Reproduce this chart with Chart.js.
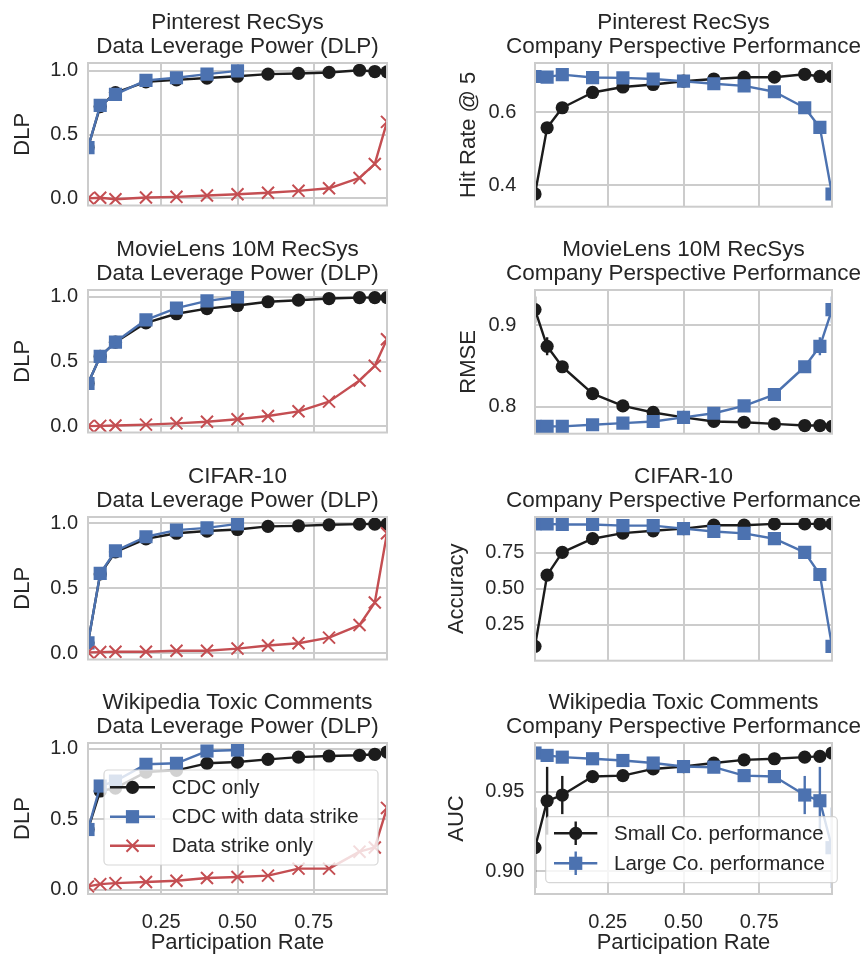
<!DOCTYPE html>
<html>
<head>
<meta charset="utf-8">
<script src="https://cdn.jsdelivr.net/npm/chart.js@4.4.1/dist/chart.umd.min.js"></script>
<style>
  html, body { margin: 0; padding: 0; background: #fff; overflow: hidden; }
  #fig { position: relative; width: 868px; height: 959px; overflow: hidden; background: #fff; }
  #fig canvas { position: absolute; }
</style>
</head>
<body>
<div id="fig"></div>
<script>
// participation rates (x) - data strike runs only go to 0.5
const participation = [0.01, 0.05, 0.1, 0.2, 0.3, 0.4, 0.5, 0.6, 0.7, 0.8, 0.9, 0.95, 0.99];
const strikeParticipation = [0.01, 0.05, 0.1, 0.2, 0.3, 0.4, 0.5];
const xTicks = [0.25, 0.5, 0.75];

// Pinterest
const pinCdc = [0.40, 0.72, 0.83, 0.914, 0.93, 0.944, 0.958, 0.975, 0.98, 0.988, 1.005, 0.995, 0.993];
const pinCdcStrike = [0.398, 0.73, 0.816, 0.926, 0.946, 0.975, 1.0];
const pinStrike = [0.0, 0.005, -0.007, 0.007, 0.012, 0.022, 0.032, 0.044, 0.059, 0.079, 0.16, 0.27, 0.60];
const pinSmall = [0.376, 0.558, 0.613, 0.655, 0.670, 0.677, 0.686, 0.692, 0.697, 0.697, 0.705, 0.699, 0.699];
const pinLarge = [0.699, 0.697, 0.704, 0.696, 0.695, 0.692, 0.686, 0.679, 0.673, 0.657, 0.613, 0.559, 0.376];

// MovieLens 10M
const mlCdc = [0.33, 0.54, 0.65, 0.80, 0.87, 0.91, 0.934, 0.963, 0.975, 0.988, 0.995, 0.995, 0.995];
const mlCdcStrike = [0.33, 0.54, 0.651, 0.823, 0.914, 0.97, 1.0];
const mlStrike = [0.0, 0.002, 0.005, 0.012, 0.022, 0.034, 0.054, 0.079, 0.115, 0.19, 0.354, 0.467, 0.673];
const mlSmall = [0.919, 0.874, 0.849, 0.816, 0.801, 0.793, 0.787, 0.782, 0.781, 0.779, 0.777, 0.777, 0.776];
const mlLarge = [0.776, 0.776, 0.776, 0.778, 0.780, 0.782, 0.787, 0.792, 0.801, 0.815, 0.849, 0.874, 0.919];
const mlSmallErr = [0.016, 0.011, 0.003, 0.002, 0.001, 0.001, 0.001, 0.001, 0.001, 0.001, 0.001, 0.001, 0.001];
const mlLargeErr = [0.001, 0.001, 0.001, 0.001, 0.001, 0.001, 0.001, 0.001, 0.001, 0.002, 0.003, 0.011, 0.016];

// CIFAR-10
const cifCdc = [0.08, 0.61, 0.78, 0.88, 0.923, 0.94, 0.952, 0.976, 0.98, 0.988, 0.993, 0.993, 0.993];
const cifCdcStrike = [0.08, 0.614, 0.788, 0.896, 0.947, 0.964, 0.995];
const cifStrike = [0.007, 0.009, 0.012, 0.012, 0.019, 0.019, 0.036, 0.06, 0.077, 0.12, 0.217, 0.39, 0.923];
const cifSmall = [0.10, 0.595, 0.754, 0.849, 0.888, 0.904, 0.919, 0.943, 0.943, 0.952, 0.952, 0.952, 0.952];
const cifLarge = [0.952, 0.952, 0.948, 0.948, 0.940, 0.940, 0.919, 0.899, 0.886, 0.849, 0.754, 0.60, 0.10];
const cifSmallErr = [0.005, 0.03, 0.01, 0.005, 0.003, 0.002, 0.002, 0.002, 0.002, 0.002, 0.002, 0.002, 0.002];
const cifLargeErr = [0.002, 0.002, 0.002, 0.002, 0.002, 0.002, 0.002, 0.003, 0.005, 0.005, 0.01, 0.03, 0.005];

// Wikipedia Toxic Comments
const wikiCdc = [0.427, 0.70, 0.72, 0.834, 0.846, 0.896, 0.905, 0.924, 0.94, 0.948, 0.953, 0.96, 0.976];
const wikiCdcStrike = [0.427, 0.735, 0.77, 0.889, 0.896, 0.983, 0.99];
const wikiStrike = [0.024, 0.04, 0.047, 0.055, 0.064, 0.083, 0.09, 0.1, 0.15, 0.15, 0.27, 0.30, 0.58];
const wikiSmall = [0.9148, 0.9443, 0.9479, 0.9595, 0.9601, 0.9643, 0.9658, 0.968, 0.970, 0.9707, 0.9717, 0.9722, 0.9743];
const wikiLarge = [0.9743, 0.9728, 0.9717, 0.9707, 0.9696, 0.968, 0.9658, 0.9654, 0.9601, 0.9595, 0.9479, 0.9443, 0.9148];
const wikiSmallErr = [0.0253, 0.0213, 0.012, 0.002, 0.001, 0.002, 0.001, 0.001, 0.001, 0.001, 0.001, 0.001, 0.001];
const wikiLargeErr = [0.001, 0.001, 0.001, 0.001, 0.001, 0.002, 0.001, 0.001, 0.001, 0.002, 0.012, 0.0213, 0.0253];

// y tick values
const dlpTicks = [0, 0.5, 1.0];
const hitTicks = [0.4, 0.6];
const rmseTicks = [0.8, 0.9];
const accTicks = [0.25, 0.5, 0.75];
const aucTicks = [0.90, 0.95];

const BLACK = '#1c1c1c', BLUE = '#4c72b0', RED = '#c44e52';
const TEXT = '#262626', GRID = '#cccccc';
const FONT = "'Liberation Sans', Arial, sans-serif";

Chart.defaults.font.family = FONT;
Chart.defaults.color = TEXT;

const cols = [
  {left: 0, width: 475, yAxisW: 88, padRight: 88},
  {left: 434, width: 499, yAxisW: 101, padRight: 101}
];
const rowTops = [63, 290, 517, 743];
const plotH = 151;

const zip = (xs, ys) => ys.map((y, i) => ({x: xs[i], y: y}));

function dlpSets(cdc, cdcStrike, strike) {
  return [
    {label: 'CDC only', data: zip(participation, cdc), borderColor: BLACK, backgroundColor: BLACK,
     pointStyle: 'circle', pointRadius: 6.6, pointBorderWidth: 0, order: 3},
    {label: 'CDC with data strike', data: zip(strikeParticipation, cdcStrike), borderColor: BLUE, backgroundColor: BLUE,
     pointStyle: 'rect', pointRadius: 9.3, pointBorderWidth: 0, order: 2},
    {label: 'Data strike only', data: zip(participation, strike), borderColor: RED, backgroundColor: RED,
     pointStyle: 'crossRot', pointRadius: 8.5, pointBorderWidth: 2, pointBorderColor: RED, order: 1}
  ];
}
function perfSets(small, large, smallErr, largeErr) {
  return [
    {label: 'Small Co. performance', data: zip(participation, small), errors: smallErr, borderColor: BLACK, backgroundColor: BLACK,
     pointStyle: 'circle', pointRadius: 6.6, pointBorderWidth: 0, order: 2},
    {label: 'Large Co. performance', data: zip(participation, large), errors: largeErr, borderColor: BLUE, backgroundColor: BLUE,
     pointStyle: 'rect', pointRadius: 9.3, pointBorderWidth: 0, order: 1}
  ];
}

const panels = [
  {col: 0, row: 0, title: ['Pinterest RecSys', 'Data Leverage Power (DLP)'], yLabel: 'DLP', labelPad: 10.2, tickPad: 10,
   yMin: -0.056, yMax: 1.062, yTicks: dlpTicks, yDec: 1, sets: dlpSets(pinCdc, pinCdcStrike, pinStrike)},
  {col: 1, row: 0, title: ['Pinterest RecSys', 'Company Perspective Performance'], yLabel: 'Hit Rate @ 5', labelPad: 22, tickPad: 18.7,
   yMin: 0.341, yMax: 0.736, yTicks: hitTicks, yDec: 1, sets: perfSets(pinSmall, pinLarge, null, null)},
  {col: 0, row: 1, title: ['MovieLens 10M RecSys', 'Data Leverage Power (DLP)'], yLabel: 'DLP', labelPad: 10.2, tickPad: 10,
   yMin: -0.049, yMax: 1.054, yTicks: dlpTicks, yDec: 1, sets: dlpSets(mlCdc, mlCdcStrike, mlStrike)},
  {col: 1, row: 1, title: ['MovieLens 10M RecSys', 'Company Perspective Performance'], yLabel: 'RMSE', labelPad: 22, tickPad: 18.7,
   yMin: 0.767, yMax: 0.943, yTicks: rmseTicks, yDec: 1, sets: perfSets(mlSmall, mlLarge, mlSmallErr, mlLargeErr)},
  {col: 0, row: 2, title: ['CIFAR-10', 'Data Leverage Power (DLP)'], yLabel: 'DLP', labelPad: 10.2, tickPad: 10,
   yMin: -0.048, yMax: 1.048, yTicks: dlpTicks, yDec: 1, sets: dlpSets(cifCdc, cifCdcStrike, cifStrike)},
  {col: 1, row: 2, title: ['CIFAR-10', 'Company Perspective Performance'], yLabel: 'Accuracy', labelPad: 10.2, tickPad: 10.7,
   yMin: 0.0, yMax: 1.0, yTicks: accTicks, yDec: 2, sets: perfSets(cifSmall, cifLarge, cifSmallErr, cifLargeErr)},
  {col: 0, row: 3, title: ['Wikipedia Toxic Comments', 'Data Leverage Power (DLP)'], yLabel: 'DLP', labelPad: 10.2, tickPad: 10,
   yMin: -0.03, yMax: 1.04, yTicks: dlpTicks, yDec: 1, sets: dlpSets(wikiCdc, wikiCdcStrike, wikiStrike),
   legend: {left: 16, bottom: 29, width: 274, height: 95, rowY: [17.3, 46.7, 75.7], lineX: [6, 51], markX: 28.5, textX: 67.7}},
  {col: 1, row: 3, title: ['Wikipedia Toxic Comments', 'Company Perspective Performance'], yLabel: 'AUC', labelPad: 10.2, tickPad: 10.7,
   yMin: 0.8857, yMax: 0.9806, yTicks: aucTicks, yDec: 2, sets: perfSets(wikiSmall, wikiLarge, wikiSmallErr, wikiLargeErr),
   legend: {left: 10.7, bottom: 11.3, width: 291.6, height: 66, rowY: [16.6, 46.6], lineX: [8.3, 51.6], markX: 30, textX: 68.3}}
];

function drawMarker(ctx, style, color, x, y) {
  ctx.save();
  ctx.fillStyle = color;
  ctx.strokeStyle = color;
  if (style === 'circle') {
    ctx.beginPath(); ctx.arc(x, y, 6.6, 0, Math.PI * 2); ctx.fill();
  } else if (style === 'rect') {
    ctx.fillRect(x - 6.6, y - 6.6, 13.2, 13.2);
  } else {
    const d = 6;
    ctx.lineWidth = 2;
    ctx.beginPath();
    ctx.moveTo(x - d, y - d); ctx.lineTo(x + d, y + d);
    ctx.moveTo(x + d, y - d); ctx.lineTo(x - d, y + d);
    ctx.stroke();
  }
  ctx.restore();
}

// vertical error bars, under the markers
const errorBars = {
  id: 'errorBars',
  beforeDatasetDraw(chart, args) {
    const ds = chart.data.datasets[args.index];
    if (!ds.errors) return;
    const ctx = chart.ctx, a = chart.chartArea, ys = chart.scales.y;
    ctx.save();
    ctx.beginPath(); ctx.rect(a.left, a.top, a.right - a.left, a.bottom - a.top); ctx.clip();
    ctx.strokeStyle = ds.borderColor;
    ctx.lineWidth = 2.4;
    args.meta.data.forEach((pt, i) => {
      const v = ds.data[i].y, e = ds.errors[i];
      ctx.beginPath();
      ctx.moveTo(pt.x, ys.getPixelForValue(v - e));
      ctx.lineTo(pt.x, ys.getPixelForValue(v + e));
      ctx.stroke();
    });
    ctx.restore();
  }
};

// axes frame plus the matplotlib-like legend box
const decor = {
  id: 'decor',
  afterDatasetsDraw(chart, args, opts) {
    const ctx = chart.ctx, a = chart.chartArea;
    ctx.save();
    ctx.strokeStyle = GRID;
    ctx.lineWidth = 2;
    ctx.strokeRect(a.left, a.top, a.right - a.left, a.bottom - a.top);
    ctx.restore();

    const lg = opts.box;
    if (!lg) return;
    const bx = a.left + lg.left, by = a.bottom - lg.bottom - lg.height;
    ctx.save();
    ctx.beginPath();
    ctx.roundRect(bx, by, lg.width, lg.height, 4);
    ctx.fillStyle = 'rgba(255,255,255,0.8)';
    ctx.fill();
    ctx.strokeStyle = 'rgba(204,204,204,0.8)';
    ctx.lineWidth = 1.2;
    ctx.stroke();
    ctx.font = '20.5px ' + FONT;
    ctx.textBaseline = 'middle';
    ctx.fillStyle = TEXT;
    chart.data.datasets.forEach((ds, i) => {
      const y = by + lg.rowY[i];
      ctx.strokeStyle = ds.borderColor;
      ctx.lineWidth = 2.4;
      ctx.beginPath();
      ctx.moveTo(bx + lg.lineX[0], y); ctx.lineTo(bx + lg.lineX[1], y);
      if (ds.errors) { ctx.moveTo(bx + lg.markX, y - 11.7); ctx.lineTo(bx + lg.markX, y + 11.7); }
      ctx.stroke();
      drawMarker(ctx, ds.pointStyle, ds.borderColor, bx + lg.markX, y);
      ctx.fillStyle = TEXT;
      ctx.fillText(ds.label, bx + lg.textX, y + 1);
    });
    ctx.restore();
  }
};

const fig = document.getElementById('fig');

panels.forEach(p => {
  const c = cols[p.col];
  const bottomRow = p.row === 3;
  const canvas = document.createElement('canvas');
  canvas.width = c.width;
  canvas.height = 63 + plotH + (bottomRow ? 66 : 2);
  canvas.style.left = c.left + 'px';
  canvas.style.top = (rowTops[p.row] - 63) + 'px';
  fig.appendChild(canvas);

  p.sets.forEach(ds => {
    ds.borderWidth = 2.4;
    ds.tension = 0;
    ds.fill = false;
    ds.clip = 0;
    ds.borderJoinStyle = 'round';
    ds.pointBackgroundColor = ds.borderColor;
    if (!ds.pointBorderColor) ds.pointBorderColor = ds.borderColor;
  });

  new Chart(canvas, {
    type: 'line',
    data: {datasets: p.sets},
    plugins: [errorBars, decor],
    options: {
      responsive: false,
      animation: false,
      devicePixelRatio: 1,
      layout: {padding: {left: 0, right: 0, top: 0, bottom: bottomRow ? 0 : 2}},
      scales: {
        x: {
          type: 'linear', min: 0.01, max: 0.99,
          afterBuildTicks: s => { s.ticks = xTicks.map(v => ({value: v})); },
          afterFit: s => { s.height = bottomRow ? 66 : 0; s.paddingLeft = 0; s.paddingRight = 0; },
          grid: {color: GRID, lineWidth: 2, drawTicks: false},
          border: {display: false},
          ticks: {display: bottomRow, padding: 16, color: TEXT, font: {size: 20},
                  callback: v => v.toFixed(2)},
          title: {display: bottomRow, text: 'Participation Rate', color: TEXT, font: {size: 22},
                  padding: {top: 0, bottom: 4}}
        },
        y: {
          type: 'linear', position: 'left', min: p.yMin, max: p.yMax,
          afterBuildTicks: s => { s.ticks = p.yTicks.map(v => ({value: v})); },
          afterFit: s => { s.width = c.yAxisW; s.paddingTop = 0; s.paddingBottom = 0; },
          grid: {color: GRID, lineWidth: 2, drawTicks: false},
          border: {display: false},
          ticks: {padding: p.tickPad, color: TEXT, font: {size: 20},
                  callback: v => v.toFixed(p.yDec)},
          title: {display: true, text: p.yLabel, color: TEXT, font: {size: 22},
                  padding: {top: p.labelPad, bottom: 0}}
        },
        // empty right axis keeps the title centred over the plot
        y2: {
          type: 'linear', position: 'right', display: true,
          afterFit: s => { s.width = c.padRight; s.paddingTop = 0; s.paddingBottom = 0; },
          grid: {display: false}, border: {display: false}, ticks: {display: false}
        }
      },
      plugins: {
        legend: {display: false},
        tooltip: {enabled: false},
        title: {display: true, text: p.title, color: TEXT, font: {size: 22.5, weight: 'normal', lineHeight: 1.1},
                padding: {top: 10, bottom: 3.5}},
        decor: {box: p.legend || null}
      }
    }
  });
});
</script>
</body>
</html>
